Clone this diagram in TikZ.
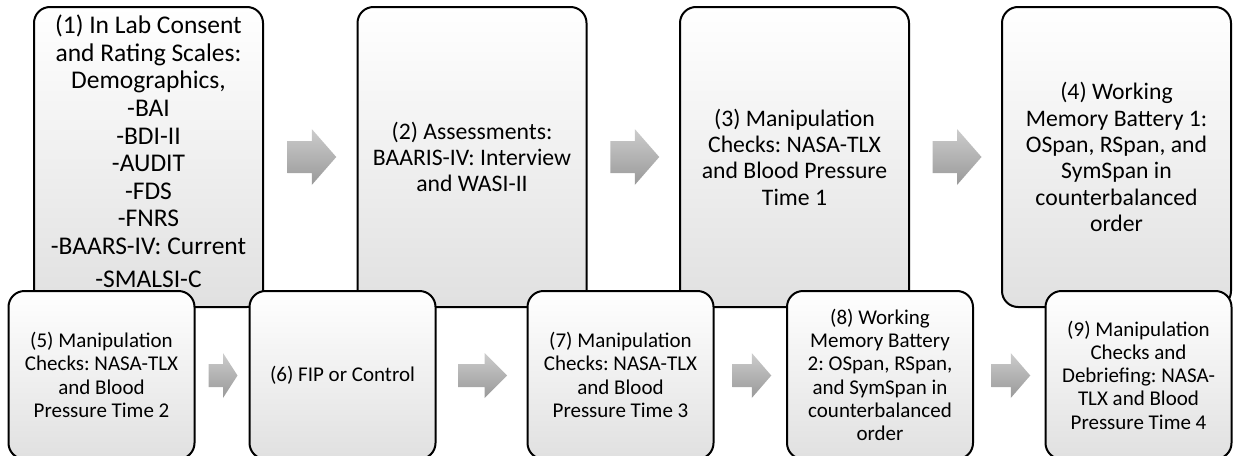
\documentclass[tikz,border=0pt]{standalone}
\usepackage{fontspec}
\setmainfont{Carlito}
\frenchspacing
\usetikzlibrary{calc}
\tikzset{
  stagebox/.style={draw=black, line width=2pt, rounded corners=16pt, top color=white, bottom color=black!12, inner sep=0pt, align=center},
  topbox/.style={stagebox, minimum width=229pt, minimum height=300pt, font=\fontsize{23.7}{26.3}\selectfont},
  lowbox/.style={stagebox, minimum width=186pt, minimum height=168pt, font=\fontsize{21}{23.3}\selectfont},
  arrowfill/.style={top color=black!20, bottom color=black!40, draw=none}
}
% #1 centre coordinate, #2 length, #3 head half height, #4 shaft half height, #5 head length
\newcommand{\bkarrow}[5]{%
  \path[arrowfill] ($(#1)+({-#2/2},{-#4})$) -- ($(#1)+({#2/2-#5},{-#4})$) -- ($(#1)+({#2/2-#5},{-#3})$) -- ($(#1)+({#2/2},0)$) -- ($(#1)+({#2/2-#5},{#3})$) -- ($(#1)+({#2/2-#5},{#4})$) -- ($(#1)+({-#2/2},{#4})$) -- cycle;}
\begin{document}
\begin{tikzpicture}[x=1pt,y=-1pt]
\useasboundingbox (0,0) rectangle (1233,455);
% top row
\node[topbox, font=\fontsize{25.5}{27.6}\selectfont] (b1) at (148.5,157) {(1) In Lab Consent\\and Rating Scales:\\Demographics,\\-BAI\\-BDI-II\\-AUDIT\\-FDS\\-FNRS\\-BAARS-IV: Current\\[5pt]-SMALSI-C\rule[-12pt]{0pt}{12pt}};
\node[topbox] (b2) at (472,157) {(2) Assessments:\\BAARIS-IV: Interview\\and WASI-II};
\node[topbox] (b3) at (794.5,157) {(3) Manipulation\\Checks: NASA-TLX\\and Blood Pressure\\Time 1};
\node[topbox] (b4) at (1116.5,157) {(4) Working\\Memory Battery 1:\\OSpan, RSpan, and\\SymSpan in\\counterbalanced\\order};
\coordinate (m12) at ($($(b1.east)!0.5!(b2.west)$)+(1.5,0)$);
\coordinate (m23) at ($($(b2.east)!0.5!(b3.west)$)+(1.5,0)$);
\coordinate (m34) at ($($(b3.east)!0.5!(b4.west)$)+(1.5,0)$);
\bkarrow{m12}{49}{28}{16}{24.5}
\bkarrow{m23}{49}{28}{16}{24.5}
\bkarrow{m34}{49}{28}{16}{24.5}
% bottom row
\node[lowbox] (b5) at (101.5,375) {(5) Manipulation\\Checks: NASA-TLX\\and Blood\\Pressure Time 2};
\node[lowbox] (b6) at (342.5,375) {(6) FIP or Control};
\node[lowbox] (b7) at (620.5,375) {(7) Manipulation\\Checks: NASA-TLX\\and Blood\\Pressure Time 3};
\node[lowbox] (b8) at (880,375) {(8) Working\\Memory Battery\\2: OSpan, RSpan,\\and SymSpan in\\counterbalanced\\order};
\node[lowbox] (b9) at (1138.5,375) {(9) Manipulation\\Checks and\\Debriefing: NASA-\\TLX and Blood\\Pressure Time 4};
\coordinate (m56) at ($($(b5.east)!0.5!(b6.west)$)+(1,0.5)$);
\coordinate (m67) at ($($(b6.east)!0.5!(b7.west)$)+(1,0.5)$);
\coordinate (m78) at ($($(b7.east)!0.5!(b8.west)$)+(1.5,0.5)$);
\coordinate (m89) at ($($(b8.east)!0.5!(b9.west)$)+(1.5,0.5)$);
\bkarrow{m56}{29}{22.5}{11.5}{14.5}
\bkarrow{m67}{49}{22.5}{11.5}{22.5}
\bkarrow{m78}{39}{22.5}{11.5}{19.5}
\bkarrow{m89}{39}{22.5}{11.5}{19.5}
\end{tikzpicture}
\end{document}
